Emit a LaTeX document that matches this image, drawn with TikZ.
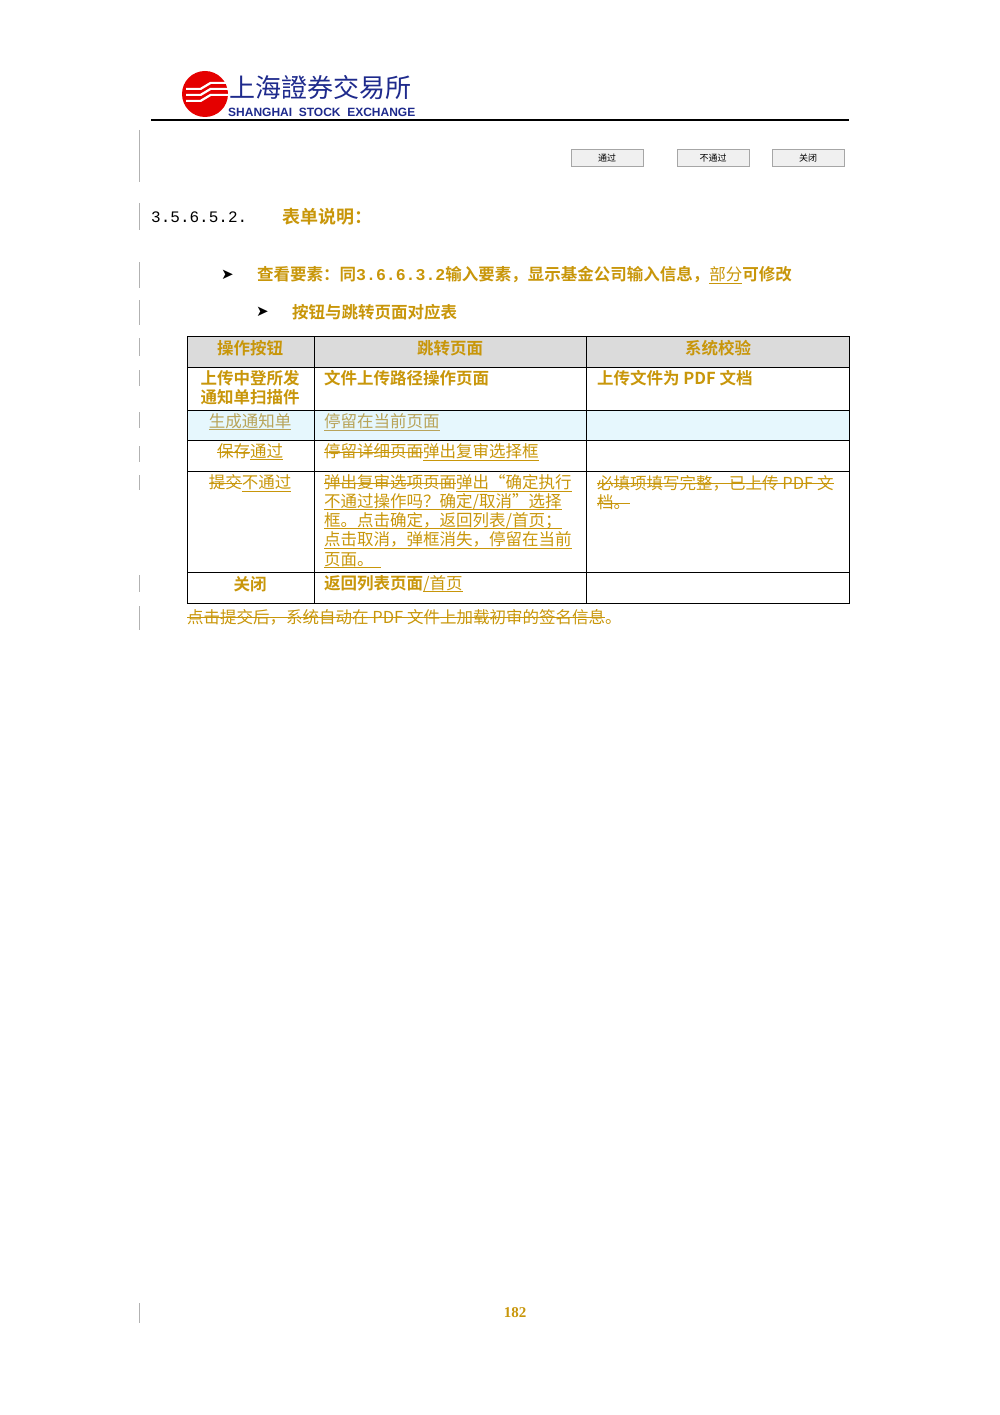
\documentclass[tikz,border=0pt]{standalone}
\usepackage{fontspec}
\setmainfont{Liberation Serif}
\newfontfamily\cjk{Noto Sans CJK SC}
\newfontfamily\cjkb{Noto Sans CJK SC Bold}
\newfontfamily\arialf{Liberation Sans}
\newfontfamily\monof{Liberation Mono}
\newfontfamily\djv{DejaVu Sans}
\definecolor{gold}{HTML}{C8960A}
\definecolor{pale}{HTML}{B8A45A}
\definecolor{navy}{HTML}{1E2A8C}
\newsavebox\mybx
\newcommand{\Ux}[1]{\sbox\mybx{#1}\rlap{\rule[-2.5pt]{\wd\mybx}{0.7pt}}\usebox\mybx}
\newcommand{\Sx}[1]{\sbox\mybx{#1}\rlap{\rule[0.3em]{\wd\mybx}{0.7pt}}\usebox\mybx}
\begin{document}
\begin{tikzpicture}[x=1pt,y=-1pt,
  t/.style={anchor=west,inner sep=0pt,text=gold,font=\cjk\fontsize{16.5}{16.5}\selectfont},
  tb/.style={anchor=west,inner sep=0pt,text=gold,font=\cjkb\fontsize{16.5}{16.5}\selectfont},
  btn/.style={draw=gray!70,fill=gray!12,minimum width=72pt,minimum height=17pt,inner sep=0pt,font=\cjk\fontsize{9}{9}\selectfont},
  tick/.style={draw=gray!60,line width=0.8pt}]
\useasboundingbox (0,0) rectangle (1000,1415);
% logo
\fill[red!90!black] (205,94) circle (23);
\foreach \dy in {-6,0,6}{\fill[white] (186,94+\dy) -- (200,94+\dy) -- (210,88+\dy) -- (228,88+\dy) -- (228,90+\dy) -- (211,90+\dy) -- (201,96+\dy) -- (186,96+\dy) -- cycle;}
\node[anchor=west,inner sep=0pt,text=navy,font=\cjk\fontsize{26}{26}\selectfont] (logo) at (229,88) {上海證券交易所};
\node[anchor=west,inner sep=0pt,text=navy,font=\arialf\bfseries\fontsize{12}{12}\selectfont] (logoen) at (228,112) {SHANGHAI\ \ STOCK\ \ EXCHANGE};
\draw[line width=1.2pt] (151,120) -- (849,120);
% buttons
\node[btn] (b1) at (607,158) {通过};
\node[btn] (b2) at (713,158) {不通过};
\node[btn] (b3) at (808,158) {关闭};
% ticks
\foreach \a/\b in {130/182,203/230,262/288,300/325,338/356,370/386,412/428,446/462,475/490,575/592,606/630,1303/1323}{\draw[tick] (139,\a) -- (139,\b);}
% heading
\node[anchor=west,inner sep=0pt,font=\monof\fontsize{16}{16}\selectfont] (num) at (151,217) {3.5.6.5.2.};
\node[tb,font=\cjkb\fontsize{18}{18}\selectfont] (h) at (282,217) {表单说明：};
\node[anchor=west,inner sep=0pt,font=\djv\fontsize{15}{15}\selectfont] (ar1) at (221,275) {➤};
\node[tb] (l1) at (257,275) {查看要素：同{\monof\bfseries 3.6.6.3.2}输入要素，显示基金公司输入信息，\Ux{\cjk 部分}可修改};
\node[anchor=west,inner sep=0pt,font=\djv\fontsize{15}{15}\selectfont] (ar2) at (256,312) {➤};
\node[tb] (l2) at (292,312) {按钮与跳转页面对应表};
% table
\fill[gray!28] (187,336) rectangle (849,367);
\fill[cyan!10] (187,410) rectangle (849,440);
\draw[line width=0.9pt] (187,336) rectangle (849,603);
\foreach \y in {367,410,440,471,572}{\draw[line width=0.9pt] (187,\y) -- (849,\y);}
\foreach \x in {314,586}{\draw[line width=0.9pt] (\x,336) -- (\x,603);}
\node[tb,anchor=center] (c11) at (250,348) {操作按钮};
\node[tb,anchor=center] (c12) at (450,348) {跳转页面};
\node[tb,anchor=center] (c13) at (718,348) {系统校验};
\node[tb,anchor=center] (r1a) at (250,378) {上传中登所发};
\node[tb,anchor=center] (r1b) at (250,397) {通知单扫描件};
\node[tb] (r1c) at (324,378) {文件上传路径操作页面};
\node[tb] (r1d) at (597,378) {上传文件为 PDF 文档};
\node[t,anchor=center,text=pale] (r2a) at (250,422) {\Ux{生成通知单}};
\node[t,text=pale] (r2b) at (324,422) {\Ux{停留在当前页面}};
\node[t,anchor=center] (r3a) at (250,452) {\Sx{保存}\Ux{通过}};
\node[t] (r3b) at (324,452) {\Sx{停留详细页面}\Ux{弹出复审选择框}};
\node[t,anchor=center] (r4a) at (250,483) {\Sx{提交}\Ux{不通过}};
\node[t] (r4b1) at (324,483) {\Sx{弹出复审选项页面}\Ux{弹出“确定执行}};
\node[t] (r4b2) at (324,502) {\Ux{不通过操作吗？确定/取消”选择}};
\node[t] (r4b3) at (324,521) {\Ux{框。点击确定，返回列表/首页；}};
\node[t] (r4b4) at (324,540) {\Ux{点击取消，弹框消失，停留在当前}};
\node[t] (r4b5) at (324,560) {\Ux{页面。\ \ }};
\node[t] (r4c1) at (597,483) {\Sx{必填项填写完整，已上传 PDF 文}};
\node[t] (r4c2) at (597,502) {\Sx{档。}};
\node[tb,anchor=center] (r5a) at (250,584) {关闭};
\node[tb] (r5b) at (324,584) {返回列表页面\Ux{\cjk /首页}};
\node[t] (foot) at (187,617) {\Sx{点击提交后，系统自动在 PDF 文件上加载初审的签名信息}。};
\node[anchor=center,inner sep=0pt,text=gold,font=\bfseries\fontsize{15}{15}\selectfont] (pg) at (515,1313) {182};
\end{tikzpicture}
\end{document}
